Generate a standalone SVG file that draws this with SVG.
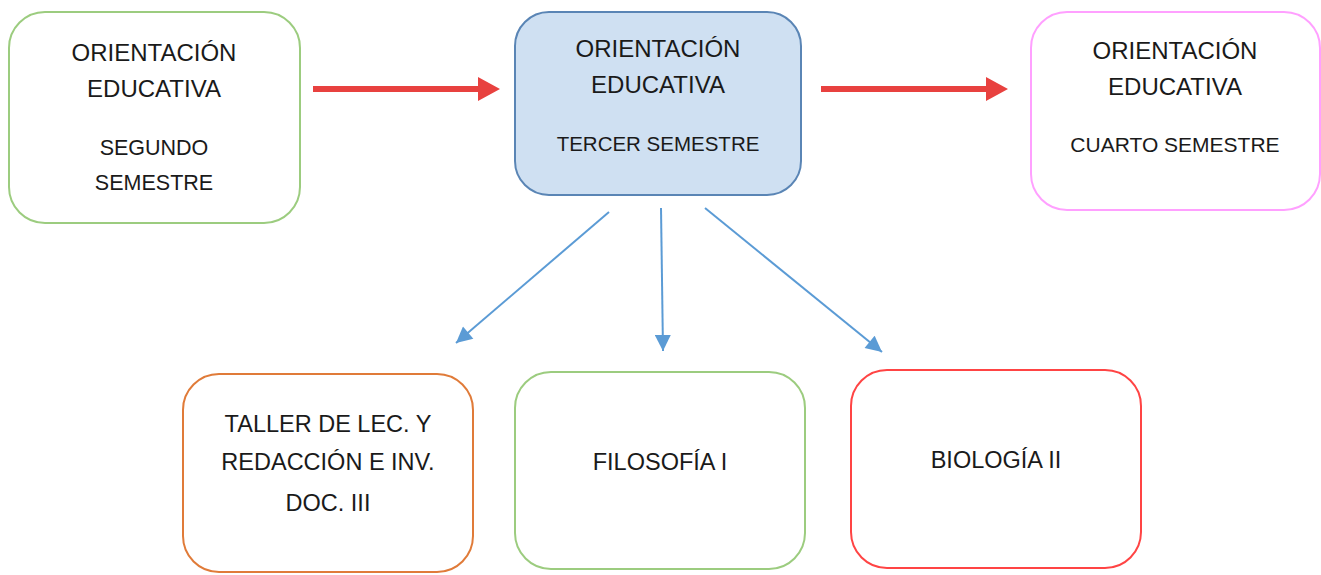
<svg xmlns="http://www.w3.org/2000/svg" width="1321" height="575" viewBox="0 0 1321 575">
<defs>
<style>
.box{stroke-width:2}
text{font-family:"Liberation Sans",Arial,sans-serif;fill:#1a1a1a;text-anchor:middle}
.big{font-size:24px}
.sm{font-size:20.5px}
.bt{font-size:23.5px}
.red{fill:#e8413f}
.blue{stroke:#5b9bd5;stroke-width:2;fill:none}
</style>
<marker id="bh" viewBox="0 0 10 10" refX="10" refY="5" markerWidth="9" markerHeight="8" markerUnits="strokeWidth" orient="auto"><path d="M0,0 L10,5 L0,10 z" fill="#5b9bd5"/></marker>
</defs>
<rect width="1321" height="575" fill="#fff"/>
<g id="n1"><rect class="box" x="9" y="12" width="291" height="211" rx="36" fill="#fff" stroke="#9ccc7f"/>
<text class="big" x="154" y="61">ORIENTACIÓN</text><text class="big" x="154" y="97">EDUCATIVA</text>
<text class="sm" x="154" y="155" style="font-size:21.5px">SEGUNDO</text><text class="sm" x="154" y="190" style="font-size:21.5px">SEMESTRE</text></g>
<g id="n2"><rect class="box" x="515" y="12" width="286" height="183" rx="34" fill="#cfe0f2" stroke="#5a85b5"/>
<text class="big" x="658" y="57">ORIENTACIÓN</text><text class="big" x="658" y="93">EDUCATIVA</text>
<text class="sm" x="658" y="151">TERCER SEMESTRE</text></g>
<g id="n3"><rect class="box" x="1031" y="12" width="289" height="198" rx="36" fill="#fff" stroke="#ffa0ff"/>
<text class="big" x="1175" y="59">ORIENTACIÓN</text><text class="big" x="1175" y="95">EDUCATIVA</text>
<text class="sm" x="1175" y="152" style="font-size:21px">CUARTO SEMESTRE</text></g>
<g id="n4"><rect class="box" x="183" y="374" width="290" height="198" rx="36" fill="#fff" stroke="#e07b39"/>
<text class="bt" x="328" y="432">TALLER DE LEC. Y</text><text class="bt" x="328" y="470">REDACCIÓN E INV.</text><text class="bt" x="328" y="511">DOC. III</text></g>
<g id="n5"><rect class="box" x="515" y="372" width="290" height="197" rx="36" fill="#fff" stroke="#9ccc7f"/>
<text class="bt" x="660" y="470">FILOSOFÍA I</text></g>
<g id="n6"><rect class="box" x="851" y="370" width="290" height="198" rx="36" fill="#fff" stroke="#ff4444"/>
<text class="bt" x="996" y="468">BIOLOGÍA II</text></g>
<g id="connectors">
<path class="red" d="M313,86 H478 V77 L500,89 L478,101 V92 H313 Z"/>
<path class="red" d="M821,86 H986 V77 L1008,89 L986,101 V92 H821 Z"/>
<line class="blue" x1="609" y1="212" x2="456" y2="343" marker-end="url(#bh)"/>
<line class="blue" x1="661" y1="208" x2="663" y2="351" marker-end="url(#bh)"/>
<line class="blue" x1="705" y1="208" x2="882" y2="352" marker-end="url(#bh)"/>
</g>
</svg>
